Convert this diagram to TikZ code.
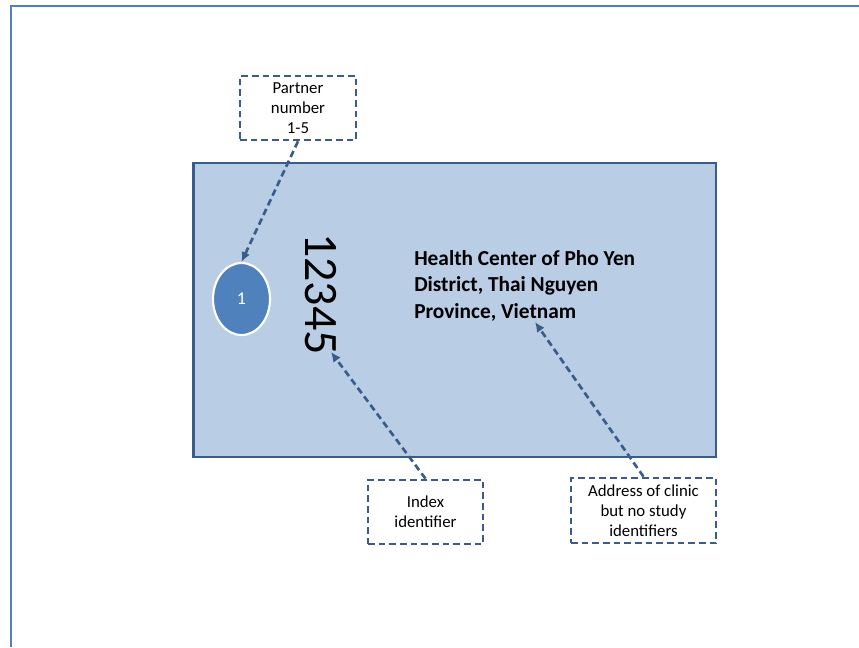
\documentclass[tikz,border=0pt]{standalone}
\usepackage{fontspec}
\setmainfont{Carlito}
\usepackage{tikz}
\usetikzlibrary{shapes.geometric, arrows.meta}

\definecolor{frameblue}{HTML}{4F81BD}
\definecolor{edgeblue}{HTML}{385D8A}
\definecolor{cardfill}{HTML}{B9CDE5}

\begin{document}
\begin{tikzpicture}[x=0.75pt, y=-0.75pt,
  note/.style={rectangle, draw=edgeblue, line width=2pt, dash pattern=on 5pt off 3pt, fill=white, align=center, inner sep=0pt, font=\fontsize{12.6}{15}\selectfont},
  pointer/.style={->, draw=edgeblue, line width=2pt, dash pattern=on 5pt off 3pt},
  >={Latex[length=2.6mm, width=2.4mm]}]
\useasboundingbox (0,0) rectangle (859,647);
% page frame, only its top and left edge show
\draw[frameblue, line width=1.6pt] (859,6) -- (11,6) -- (11,647);
% the card
\node[rectangle, draw=edgeblue, line width=2pt, fill=cardfill, minimum width=392pt, minimum height=220.5pt, inner sep=0pt] (card) at (454.5,310) {};
\node[ellipse, draw=white, line width=1.6pt, fill=frameblue, minimum width=42.75pt, minimum height=54pt, inner sep=0pt, text=white, font=\fontsize{13.5}{15}\selectfont] (dot) at (241.5,299) {1};
\node[rotate=-90, font=\fontsize{36}{36}\selectfont, inner sep=0pt] (id) at (321,294) {12345};
\node[align=left, anchor=north west, inner sep=0pt, font=\bfseries\fontsize{16}{20}\selectfont] (addr) at (414,250) {Health Center of Pho Yen\\District, Thai Nguyen\\Province, Vietnam};
\coordinate (idend) at (331,352);
\coordinate (addrend) at (535,322);
% callouts
\node[note, minimum width=87pt, minimum height=48pt] (pbox) at (298,108) {Partner\\number\\1-5};
\node[note, minimum width=86.25pt, minimum height=48pt] (ibox) at (425.5,512) {Index\\identifier};
\node[note, minimum width=108.75pt, minimum height=48.75pt] (abox) at (643.5,510.5) {Address of clinic\\but no study\\identifiers};
\draw[pointer] (pbox.south) -- (dot.north);
\draw[pointer] (ibox.north) -- (idend);
\draw[pointer] (abox.north) -- (addrend);
\end{tikzpicture}
\end{document}
